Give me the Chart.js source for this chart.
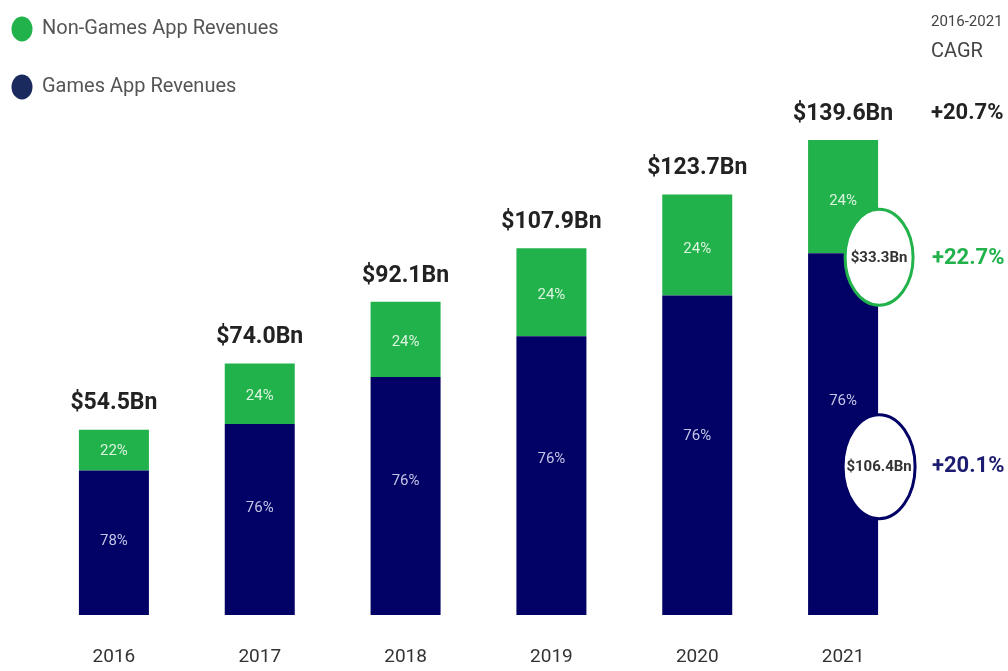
<!DOCTYPE html>
<html>
<head>
<meta charset="utf-8">
<script src="https://cdn.jsdelivr.net/npm/chart.js@4.4.1/dist/chart.umd.min.js"></script>
<style>
  html, body { margin: 0; padding: 0; background: #fff; }
  canvas { display: block; }
</style>
</head>
<body>
<canvas id="chart" width="1008" height="671"></canvas>
<script>
// data (US$ billions)
const years = ['2016', '2017', '2018', '2019', '2020', '2021'];
const gamesRevenue = [42.5, 56.2, 70.0, 82.0, 94.0, 106.4];
const nonGamesRevenue = [12.0, 17.8, 22.1, 25.9, 29.7, 33.3];
const totalRevenue = [54.5, 74.0, 92.1, 107.9, 123.7, 139.6];
const cagrLabels = ['+20.7%', '+22.7%', '+20.1%'];

const GREEN = '#21b24b';
const NAVY = '#020266';
const FONT = 'Roboto, "Open Sans", sans-serif';

// everything that is not a bar: legend, totals, percentages, CAGR column
const overlay = {
  id: 'overlay',
  afterDatasetsDraw(chart) {
    const ctx = chart.ctx;
    const y = chart.scales.y;
    const gMeta = chart.getDatasetMeta(0);
    const nMeta = chart.getDatasetMeta(1);
    ctx.save();
    ctx.textBaseline = 'middle';

    // legend
    const legend = [[GREEN, 'Non-Games App Revenues', 29], ['#1b2a5e', 'Games App Revenues', 87]];
    legend.forEach(([c, t, ly]) => {
      ctx.fillStyle = c;
      ctx.beginPath();
      ctx.ellipse(22, ly, 10.5, 12.5, 0, 0, Math.PI * 2);
      ctx.fill();
      ctx.fillStyle = '#555';
      ctx.font = '20px ' + FONT;
      ctx.textAlign = 'left';
      ctx.fillText(t, 42, ly);
    });

    // per bar labels
    years.forEach((yr, i) => {
      const gBar = gMeta.data[i];
      const nBar = nMeta.data[i];
      const total = gamesRevenue[i] + nonGamesRevenue[i];
      ctx.textAlign = 'center';

      ctx.fillStyle = '#222';
      ctx.font = 'bold 23px ' + FONT;
      ctx.fillText('$' + totalRevenue[i].toFixed(1) + 'Bn', nBar.x, nBar.y - 26);

      ctx.font = '15px ' + FONT;
      ctx.fillStyle = '#dcf3df';
      const nPct = Math.round(nonGamesRevenue[i] / total * 100);
      ctx.fillText(nPct + '%', nBar.x, nBar.y + (nBar.base - nBar.y) * 0.54);

      ctx.fillStyle = '#c4c4e6';
      const gPct = Math.round(gamesRevenue[i] / total * 100);
      const frac = i === 0 ? 0.49 : (i === years.length - 1 ? 0.41 : 0.44);
      ctx.fillText(gPct + '%', gBar.x, gBar.y + (gBar.base - gBar.y) * frac);
    });

    // 2021 breakdown bubbles
    const last = years.length - 1;
    const lb = gMeta.data[last];
    const cx = lb.x + lb.width / 2 + 1;
    const bubbles = [
      [GREEN, nonGamesRevenue[last], y.getPixelForValue(gamesRevenue[last]) + 4, 34, 48],
      [NAVY, gamesRevenue[last], y.getPixelForValue(gamesRevenue[last] * 0.41), 36, 52]
    ];
    bubbles.forEach(([c, v, cy, rx, ry]) => {
      ctx.beginPath();
      ctx.ellipse(cx, cy, rx, ry, 0, 0, Math.PI * 2);
      ctx.fillStyle = '#fff';
      ctx.fill();
      ctx.lineWidth = 3;
      ctx.strokeStyle = c;
      ctx.stroke();
      ctx.fillStyle = '#333';
      ctx.font = 'bold 15px ' + FONT;
      ctx.textAlign = 'center';
      ctx.fillText('$' + v.toFixed(1) + 'Bn', cx, cy + 1);
    });

    // CAGR column
    ctx.textAlign = 'left';
    ctx.fillStyle = '#444';
    ctx.font = '15px ' + FONT;
    ctx.fillText('2016-2021', 931, 22);
    ctx.font = '20px ' + FONT;
    ctx.fillText('CAGR', 931, 52);
    ctx.font = 'bold 22px ' + FONT;
    ctx.fillStyle = '#222';
    ctx.fillText(cagrLabels[0], 931, nMeta.data[last].y - 27);
    ctx.fillStyle = GREEN;
    ctx.fillText(cagrLabels[1], 932, bubbles[0][2] + 1);
    ctx.fillStyle = '#1c1c70';
    ctx.fillText(cagrLabels[2], 932, bubbles[1][2]);

    ctx.restore();
  }
};

new Chart(document.getElementById('chart'), {
  type: 'bar',
  data: {
    labels: years,
    datasets: [
      { label: 'Games App Revenues', data: gamesRevenue, backgroundColor: NAVY },
      { label: 'Non-Games App Revenues', data: nonGamesRevenue, backgroundColor: GREEN }
    ]
  },
  options: {
    responsive: false,
    animation: false,
    layout: { padding: { left: 41, right: 92, top: 71, bottom: 4 } },
    datasets: { bar: { barPercentage: 0.48, categoryPercentage: 1 } },
    plugins: {
      legend: { display: false },
      tooltip: { enabled: false }
    },
    scales: {
      x: {
        stacked: true,
        grid: { display: false, drawTicks: false },
        border: { display: false },
        ticks: { color: '#333', font: { family: FONT, size: 19 }, padding: 31 },
        afterFit(scale) { scale.height = 52; }
      },
      y: {
        stacked: true,
        display: false,
        min: 0,
        max: 160
      }
    }
  },
  plugins: [overlay]
});
</script>
</body>
</html>
